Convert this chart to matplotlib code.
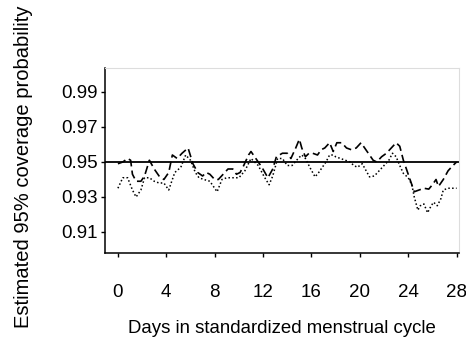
import matplotlib
matplotlib.use("Agg")
import matplotlib.pyplot as plt

plt.rcParams['font.family'] = ['Liberation Sans', 'DejaVu Sans']

# dashed series
days_a = [0.0, 0.4, 0.8, 1.05, 1.2, 1.5, 1.9, 2.2, 2.6, 3.0, 3.4, 3.8, 4.2, 4.5, 4.9,
          5.3, 5.8, 6.2, 6.6, 7.0, 7.3, 7.6, 8.0, 8.3, 8.7, 9.1, 9.5, 9.8, 10.1, 10.4,
          10.8, 11.0, 11.3, 11.6, 11.9, 12.4, 12.8, 13.1, 13.6, 14.0, 14.3, 14.7, 15.0,
          15.2, 15.5, 15.8, 16.1, 16.5, 16.8, 17.1, 17.5, 17.8, 18.1, 18.5, 18.9, 19.3,
          19.7, 20.1, 20.4, 20.8, 21.1, 21.4, 21.8, 22.2, 22.6, 23.0, 23.3, 23.6, 24.0,
          24.3, 24.5, 24.9, 25.3, 25.7, 26.0, 26.3, 26.5, 26.9, 27.3, 27.7, 28.0]
cov_a = [0.949, 0.950, 0.952, 0.951, 0.943, 0.939, 0.939, 0.942, 0.951, 0.946, 0.942,
         0.940, 0.944, 0.954, 0.952, 0.955, 0.958, 0.949, 0.944, 0.942, 0.944, 0.943,
         0.940, 0.940, 0.943, 0.946, 0.946, 0.943, 0.944, 0.948, 0.954, 0.956, 0.953,
         0.950, 0.947, 0.941, 0.946, 0.953, 0.955, 0.955, 0.952, 0.958, 0.963, 0.958,
         0.953, 0.955, 0.955, 0.954, 0.957, 0.958, 0.961, 0.956, 0.961, 0.961, 0.958,
         0.957, 0.958, 0.961, 0.958, 0.954, 0.951, 0.950, 0.953, 0.955, 0.958, 0.961,
         0.959, 0.951, 0.943, 0.937, 0.933, 0.934, 0.935, 0.9345, 0.937, 0.940, 0.936,
         0.940, 0.945, 0.948, 0.950]

# dotted series
days_b = [0.0, 0.4, 0.8, 1.2, 1.5, 1.9, 2.2, 2.6, 3.0, 3.4, 3.8, 4.2, 4.7, 5.2, 5.6,
          6.0, 6.4, 6.7, 7.1, 7.6, 8.2, 8.6, 9.0, 9.5, 10.0, 10.5, 11.0, 11.6, 12.1,
          12.5, 12.8, 13.0, 13.2, 13.6, 14.0, 14.4, 14.9, 15.2, 15.5, 15.9, 16.3, 16.6,
          16.9, 17.2, 17.5, 17.8, 18.0, 18.4, 18.8, 19.2, 19.5, 19.8, 20.2, 20.6, 20.8,
          21.2, 21.6, 22.0, 22.4, 22.7, 23.0, 23.3, 23.6, 24.0, 24.3, 24.5, 24.8, 25.0,
          25.3, 25.6, 25.9, 26.1, 26.4, 26.7, 26.9, 27.3, 27.7, 28.0]
cov_b = [0.935, 0.941, 0.941, 0.934, 0.930, 0.934, 0.941, 0.941, 0.939, 0.938, 0.938,
         0.934, 0.944, 0.947, 0.954, 0.951, 0.944, 0.941, 0.940, 0.939, 0.933, 0.940,
         0.941, 0.941, 0.941, 0.945, 0.952, 0.948, 0.9415, 0.937, 0.942, 0.947, 0.952,
         0.952, 0.948, 0.948, 0.952, 0.954, 0.952, 0.9465, 0.9415, 0.944, 0.947, 0.950,
         0.954, 0.954, 0.953, 0.952, 0.951, 0.950, 0.948, 0.947, 0.949, 0.944, 0.9415,
         0.942, 0.945, 0.948, 0.951, 0.955, 0.953, 0.948, 0.9435, 0.941, 0.937, 0.930,
         0.9225, 0.925, 0.926, 0.921, 0.925, 0.927, 0.925, 0.929, 0.934, 0.935, 0.935,
         0.935]

nominal = 0.95
x_ticks = [0, 4, 8, 12, 16, 20, 24, 28]
y_ticks = [0.91, 0.93, 0.95, 0.97, 0.99]
y_tick_labels = ['0.91', '0.93', '0.95', '0.97', '0.99']

fig = plt.figure(figsize=(4.66, 3.47), dpi=100)
ax = fig.add_axes([0.2253, 0.2709, 0.7597, 0.5331])

ax.axhline(nominal, color='black', lw=1.3)
ax.plot(days_a, cov_a, color='black', lw=1.2, linestyle=(0, (5, 2.5)))
ax.plot(days_b, cov_b, color='black', lw=1.1, linestyle=(0, (1, 1.5)))

ax.set_xlim(-1.07, 28.2)
ax.set_ylim(0.898, 1.0037)
ax.set_xticks(x_ticks)
ax.set_xticklabels([str(t) for t in x_ticks])
ax.set_yticks(y_ticks)
ax.set_yticklabels(y_tick_labels)

for s in ['top', 'right']:
    ax.spines[s].set_color('#dddddd')
    ax.spines[s].set_linewidth(0.8)
for s in ['left', 'bottom']:
    ax.spines[s].set_color('black')
    ax.spines[s].set_linewidth(1.1)

ax.tick_params(axis='x', direction='out', length=3, width=1, labelsize=13.5, pad=19)
ax.tick_params(axis='y', direction='out', length=3, width=1, labelsize=13.5, pad=2)

ax.set_xlabel('Days in standardized menstrual cycle', fontsize=13.4, labelpad=14)
fig.text(24 / 466, 1 - 167 / 347, 'Estimated 95% coverage probability', rotation=90,
         ha='center', va='center', fontsize=14.5)

fig.savefig('out.png', dpi=100)
